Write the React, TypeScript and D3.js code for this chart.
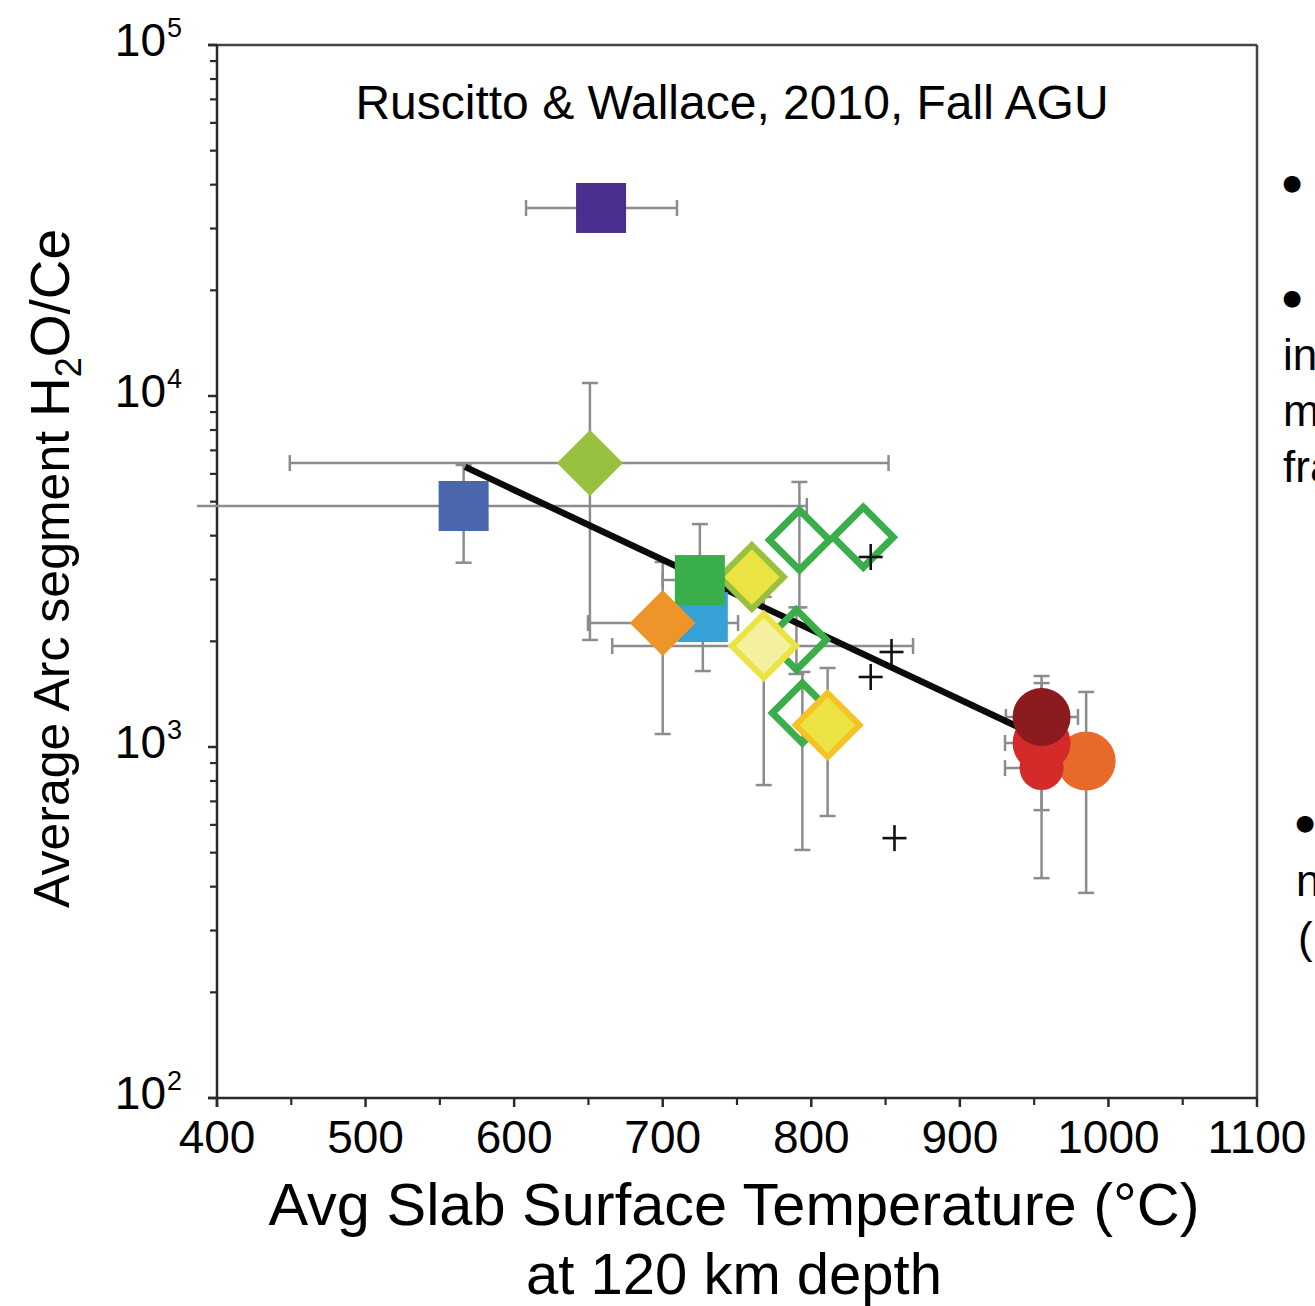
import React, { useEffect } from "react";
import * as d3 from "d3";

// ---------------------------------------------------------------------
// values (temperature in °C, ratio H2O/Ce)
// null = no error bar drawn on that side
// ---------------------------------------------------------------------
const segmentIds = [
  "open1", "open2", "open3", "open4",
  "purple", "blue", "limeDiamond", "yellowLime", "cyan", "greenSq",
  "orangeDiamond", "paleYellow", "yellowGold",
  "orangeCircle", "redSmall", "redBig", "darkRed",
];
const avgTemp = [
  792, 835, 790, 794,
  658.5, 566, 651, 760, 727, 725,
  700, 768, 811,
  985, 955, 955, 955,
];
const avgRatio = [
  3890, 3960, 2020, 1250,
  34330, 4860, 6440, 3050, 2345, 2990,
  2255, 1940, 1155,
  912, 871, 1027, 1218,
];
const tempLow = [
  null, null, null, null,
  608, 386.5, 449, null, null, 700,
  649.7, 666, null,
  null, 930.4, 930.4, 931,
];
const tempHigh = [
  null, null, null, null,
  709.6, 797, 852, null, null, 750,
  750.7, 868.5, null,
  null, 980, 980, 979.5,
];
const ratioLow = [
  2500, null, 1614, 509,
  null, 3350, 2018, null, 1646, 2073,
  1089, 779, 636,
  384, null, 423, 661,
];
const ratioHigh = [
  5690, null, 2500, 1636,
  null, 6360, 10890, null, 3340, 4316,
  3367, 2677, 1679,
  1435, null, 1521, 1593,
];

// black "+" samples
const crossTemp = [840, 854, 840, 856];
const crossRatio = [3478, 1865, 1583, 550];

// regression line end points
const fitTemp = [567, 955];
const fitRatio = [6280, 1061];

const xTicks = [400, 500, 600, 700, 800, 900, 1000, 1100];
const yTicks = [2, 3, 4, 5];

// marker looks, kept apart from the values
const markerStyle = {
  open1: { shape: "diamond", fill: "none", stroke: "#3aae4a" },
  open2: { shape: "diamond", fill: "none", stroke: "#3aae4a" },
  open3: { shape: "diamond", fill: "none", stroke: "#3aae4a" },
  open4: { shape: "diamond", fill: "none", stroke: "#3aae4a" },
  purple: { shape: "square", fill: "#4b2e8d" },
  blue: { shape: "square", fill: "#4a66ac" },
  limeDiamond: { shape: "diamond", fill: "#97c13f" },
  yellowLime: { shape: "diamond", fill: "#ebe343", stroke: "#97c13f" },
  cyan: { shape: "square", fill: "#35a1d7" },
  greenSq: { shape: "square", fill: "#3aae4a" },
  orangeDiamond: { shape: "diamond", fill: "#ee952a" },
  paleYellow: { shape: "diamond", fill: "#f4f09e", stroke: "#ebe343" },
  yellowGold: { shape: "diamond", fill: "#ebe444", stroke: "#f6c324" },
  orangeCircle: { shape: "circle", fill: "#e86a2a", r: 29.5 },
  redSmall: { shape: "circle", fill: "#d42a2a", r: 22 },
  redBig: { shape: "circle", fill: "#d42a2a", r: 29 },
  darkRed: { shape: "circle", fill: "#8b1b1f", r: 29 },
};

const FONT = "'Liberation Sans', Arial, Helvetica, sans-serif";

const App = () => {
  useEffect(() => {
    document.body.style.margin = "0";
  }, []);

  const width = 1315;
  const height = 1306;
  const plot = { left: 217, right: 1257, top: 45, bottom: 1098 };

  // Scales
  const xScale = d3.scaleLinear().domain([400, 1100]).range([plot.left, plot.right]);
  const yScale = d3.scaleLog().domain([100, 100000]).range([plot.bottom, plot.top]);

  const errColor = "#8c8c8c";
  const cap = 8;
  const inX = (v) => v >= 400 && v <= 1100;

  // error bars
  const errorBars = [];
  segmentIds.forEach((id, i) => {
    const cx = xScale(avgTemp[i]);
    const cy = yScale(avgRatio[i]);
    if (tempLow[i] !== null) {
      const x0 = xScale(tempLow[i]);
      const x1 = xScale(tempHigh[i]);
      errorBars.push(<line key={id + "h"} x1={x0} x2={x1} y1={cy} y2={cy} />);
      if (inX(tempLow[i])) errorBars.push(<line key={id + "hc0"} x1={x0} x2={x0} y1={cy - cap} y2={cy + cap} />);
      if (inX(tempHigh[i])) errorBars.push(<line key={id + "hc1"} x1={x1} x2={x1} y1={cy - cap} y2={cy + cap} />);
    }
    if (ratioLow[i] !== null) {
      const y0 = yScale(ratioLow[i]);
      const y1 = yScale(ratioHigh[i]);
      errorBars.push(<line key={id + "v"} x1={cx} x2={cx} y1={y0} y2={y1} />);
      errorBars.push(<line key={id + "vc0"} x1={cx - cap} x2={cx + cap} y1={y0} y2={y0} />);
      errorBars.push(<line key={id + "vc1"} x1={cx - cap} x2={cx + cap} y1={y1} y2={y1} />);
    }
  });

  const fitLine = d3
    .line()
    .x((d) => xScale(d[0]))
    .y((d) => yScale(d[1]))(fitTemp.map((t, i) => [t, fitRatio[i]]));

  const diamondPath = (cx, cy, r) =>
    `M${cx},${cy - r}L${cx + r},${cy}L${cx},${cy + r}L${cx - r},${cy}Z`;

  const drawOrder = [
    "open1", "open2", "open3", "open4",
    "purple", "blue", "limeDiamond", "yellowLime", "cyan", "greenSq",
    "orangeDiamond", "paleYellow", "yellowGold",
  ];
  const circleOrder = ["orangeCircle", "redSmall", "redBig", "darkRed"];

  const marker = (id) => {
    const i = segmentIds.indexOf(id);
    const s = markerStyle[id];
    const cx = xScale(avgTemp[i]);
    const cy = yScale(avgRatio[i]);
    if (s.shape === "square") {
      return <rect key={id} x={cx - 25} y={cy - 25} width={50} height={50} fill={s.fill} />;
    }
    if (s.shape === "circle") {
      return <circle key={id} cx={cx} cy={cy} r={s.r} fill={s.fill} />;
    }
    if (s.fill === "none") {
      return (
        <path key={id} d={diamondPath(cx, cy, 30)} fill="none" stroke={s.stroke}
          strokeWidth={7} strokeLinejoin="miter" />
      );
    }
    if (s.stroke) {
      return (
        <path key={id} d={diamondPath(cx, cy, 32)} fill={s.fill} stroke={s.stroke}
          strokeWidth={6} strokeLinejoin="miter" />
      );
    }
    return <path key={id} d={diamondPath(cx, cy, 33)} fill={s.fill} />;
  };

  // minor ticks on the log axis
  const yMinor = [];
  [100, 1000, 10000].forEach((dec) => {
    for (let k = 2; k <= 9; k++) yMinor.push(dec * k);
  });
  const xMinor = d3.range(450, 1100, 100);

  const axisColor = "#2a2a2a";

  return (
    <svg width={width} height={height} style={{ display: "block", background: "#fff" }}
      fontFamily={FONT}>
      {/* frame */}
      <line x1={plot.left - 9} x2={plot.right} y1={plot.top} y2={plot.top} stroke="#444" strokeWidth={2.5} />
      <line x1={plot.right} x2={plot.right} y1={plot.top} y2={plot.bottom} stroke="#444" strokeWidth={2.5} />
      <line x1={plot.left} x2={plot.left} y1={plot.top} y2={plot.bottom + 9} stroke={axisColor} strokeWidth={2.5} />
      <line x1={plot.left - 9} x2={plot.right} y1={plot.bottom} y2={plot.bottom} stroke={axisColor} strokeWidth={2.5} />

      {/* y ticks */}
      {yTicks.map((p) => (
        <line key={"yt" + p} x1={plot.left - 9} x2={plot.left} y1={yScale(10 ** p)} y2={yScale(10 ** p)}
          stroke={axisColor} strokeWidth={2.5} />
      ))}
      {yMinor.map((v) => (
        <line key={"ym" + v} x1={plot.left - 7} x2={plot.left} y1={yScale(v)} y2={yScale(v)}
          stroke={axisColor} strokeWidth={2.2} />
      ))}
      {yTicks.map((p) => (
        <g key={"yl" + p}>
          <text x={166} y={yScale(10 ** p) + 11} fontSize={46} textAnchor="end" fill="#000">10</text>
          <text x={167} y={yScale(10 ** p) - 8} fontSize={27} textAnchor="start" fill="#000">{p}</text>
        </g>
      ))}

      {/* x ticks */}
      {xTicks.map((v) => (
        <line key={"xt" + v} x1={xScale(v)} x2={xScale(v)} y1={plot.bottom} y2={plot.bottom + 9}
          stroke={axisColor} strokeWidth={2.5} />
      ))}
      {xMinor.map((v) => (
        <line key={"xm" + v} x1={xScale(v)} x2={xScale(v)} y1={plot.bottom} y2={plot.bottom + 7}
          stroke={axisColor} strokeWidth={2.2} />
      ))}
      {xTicks.map((v) => (
        <text key={"xl" + v} x={xScale(v)} y={1153} fontSize={46} textAnchor="middle" fill="#000">{v}</text>
      ))}

      {/* axis titles */}
      <text x={734} y={1225} fontSize={59.5} textAnchor="middle" fill="#000">Avg Slab Surface Temperature (°C)</text>
      <text x={734} y={1294} fontSize={58} textAnchor="middle" fill="#000">at 120 km depth</text>
      <text transform="translate(69,908) rotate(-90)" fontSize={50} fill="#000">
        Average Arc segment{" "}
        <tspan fontSize={55}>H</tspan>
        <tspan fontSize={36} dy={12}>2</tspan>
        <tspan fontSize={55} dy={-12}>O/Ce</tspan>
      </text>

      {/* citation */}
      <text x={732} y={119} fontSize={48} textAnchor="middle" fill="#000">Ruscitto &amp; Wallace, 2010, Fall AGU</text>

      {/* error bars, fit, markers */}
      <g stroke={errColor} strokeWidth={2.5}>{errorBars}</g>
      <path d={fitLine} fill="none" stroke="#0b0b0b" strokeWidth={6.5} strokeLinecap="butt" />
      {drawOrder.map(marker)}
      {crossTemp.map((t, i) => {
        const cx = xScale(t);
        const cy = yScale(crossRatio[i]);
        return (
          <g key={"c" + i} stroke="#111" strokeWidth={2.6}>
            <line x1={cx - 12} x2={cx + 12} y1={cy} y2={cy} />
            <line x1={cx} x2={cx} y1={cy - 13} y2={cy + 13} />
          </g>
        );
      })}
      {circleOrder.map(marker)}

      {/* slide text running off the right edge */}
      <g fontSize={22} fontFamily="'DejaVu Sans', sans-serif" fill="#000" textAnchor="middle"
        dominantBaseline="central">
        <text x={1292} y={182}>●</text>
        <text x={1292} y={297}>●</text>
        <text x={1305} y={822}>●</text>
      </g>
      <g fontSize={44} fill="#000">
        <text x={1283} y={370}>in</text>
        <text x={1283} y={426}>m</text>
        <text x={1283} y={482}>fra</text>
        <text x={1296} y={896}>n</text>
        <text x={1298} y={953}>(</text>
      </g>
    </svg>
  );
};

export default App;
